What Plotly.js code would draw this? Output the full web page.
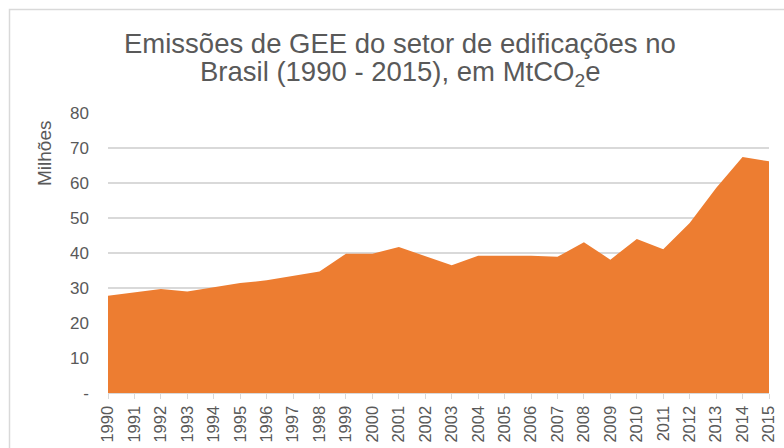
<!DOCTYPE html>
<html>
<head>
<meta charset="utf-8">
<script src="https://cdn.plot.ly/plotly-3.0.1.min.js"></script>
<style>html,body{margin:0;padding:0;background:#fff;}#chart{width:784px;height:448px;}</style>
</head>
<body>
<div id="chart"></div>
<script>
const years = ["1990","1991","1992","1993","1994","1995","1996","1997","1998","1999","2000","2001","2002","2003","2004","2005","2006","2007","2008","2009","2010","2011","2012","2013","2014","2015"];
const emissions = [27.8,28.8,29.7,29.0,30.1,31.4,32.2,33.5,34.7,39.8,39.8,41.7,39.2,36.5,39.2,39.2,39.2,38.9,43.1,38.1,44.0,41.1,48.6,58.6,67.4,66.2];
const yTickVals = [0,10,20,30,40,50,60,70,80];
const yTickText = ["-","10","20","30","40","50","60","70","80"];
const titleLines = ["Emissões de GEE do setor de edificações no", "Brasil (1990 - 2015), em MtCO<sub>2</sub>e"];

const W = 784, H = 448;
const m = {l:108, r:15, t:113, b:55};
const pw = W - m.l - m.r, ph = H - m.t - m.b;
const px = x => (x - m.l) / pw;
const py = y => (H - m.b - y) / ph;
const FONT = 'Liberation Sans, Arial, sans-serif';
const GREY = '#595959';

const trace = {
  x: years, y: emissions, type: 'scatter', mode: 'lines',
  fill: 'tozeroy', fillcolor: '#ED7D31',
  line: {width: 0, color: '#ED7D31'}, hoverinfo: 'skip'
};

const layout = {
  width: W, height: H,
  margin: m,
  paper_bgcolor: '#fff', plot_bgcolor: '#fff',
  showlegend: false,
  font: {family: FONT, color: GREY, size: 16},
  xaxis: {
    type: 'category', range: [0, 25],
    showgrid: false, zeroline: false,
    showline: true, linecolor: '#d9d9d9', linewidth: 1.3,
    ticks: 'outside', ticklen: 5, tickcolor: '#d9d9d9', tickwidth: 1,
    tickangle: -90, tickfont: {size: 16.5, color: GREY, family: FONT},
    fixedrange: true
  },
  yaxis: {
    range: [0, 80], tickvals: yTickVals, ticktext: yTickText,
    showgrid: true, gridcolor: '#d9d9d9', gridwidth: 1.3,
    zeroline: false, showline: false, ticks: '',
    ticklabelstandoff: 18,
    tickfont: {size: 17, color: GREY, family: FONT}, fixedrange: true
  },
  annotations: [
    {
      text: 'Milhões', xref: 'paper', yref: 'paper',
      x: px(44), y: py(154), xanchor: 'center', yanchor: 'middle',
      textangle: -90, showarrow: false,
      font: {size: 19, color: GREY, family: FONT}
    },
    {
      text: titleLines[0], xref: 'paper', yref: 'paper',
      x: px(400), y: py(43), xanchor: 'center', yanchor: 'middle',
      showarrow: false, font: {size: 27.5, color: GREY, family: FONT}
    },
    {
      text: titleLines[1], xref: 'paper', yref: 'paper',
      x: px(400), y: py(73), xanchor: 'center', yanchor: 'middle',
      showarrow: false, font: {size: 27.5, color: GREY, family: FONT}
    }
  ],
  shapes: [{
    type: 'rect', xref: 'paper', yref: 'paper',
    x0: px(9.5), x1: px(800), y0: py(470), y1: py(9.5),
    line: {color: '#d9d9d9', width: 1.5}, fillcolor: 'rgba(0,0,0,0)', layer: 'below'
  }]
};

Plotly.newPlot('chart', [trace], layout, {displayModeBar: false, staticPlot: true});
</script>
</body>
</html>
